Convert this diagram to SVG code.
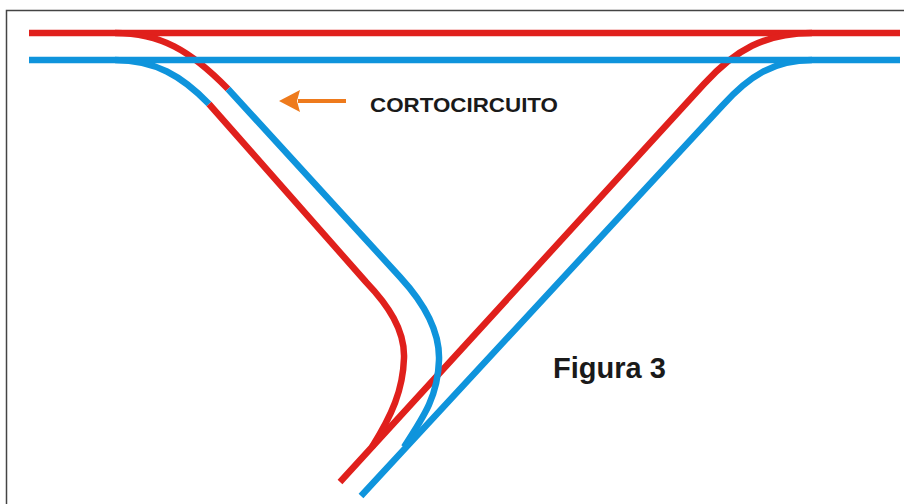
<svg xmlns="http://www.w3.org/2000/svg" width="904" height="504" viewBox="0 0 904 504">
<style>
.w{fill:none;stroke-width:6.5}
.r{stroke:#e0201c}
.b{stroke:#0f94dc}
text{font-family:"Liberation Sans",Arial,sans-serif;font-weight:700;fill:#1a1a1a}
</style>
<rect width="904" height="504" fill="#fff"/>
<path d="M6.500 504V10.500H904" fill="none" stroke="#444" stroke-width="1.500"/>
<g id="connectors">
<path class="w r" d="M29 33H900"/>
<path class="w r" d="M115 33C160 33 190 50 228 89"/>
<path class="w r" d="M340 482L704 84C735 50 765 33 812 33"/>
<path class="w b" d="M228 89L400 277C423 302 440 330 439 360C438 395 425 415 404 447"/>
<path class="w b" d="M29 60H900"/>
<path class="w b" d="M115 60C155 60 182 76 209 104"/>
<path class="w r" d="M209 104L366 282C388 305 405 330 404 358C403 390 392 415 372 447"/>
<path class="w b" d="M361 496L722 106C750 75 775 60 812 60"/>
</g>
<g id="arrow">
<path d="M346 101H298" fill="none" stroke="#ee7a1c" stroke-width="4"/>
<path d="M279 101L300 90L297 101L300 112Z" fill="#ee7a1c"/>
</g>
<g id="label-cortocircuito"><text x="370" y="112" font-size="21" textLength="188" lengthAdjust="spacingAndGlyphs">CORTOCIRCUITO</text></g>
<g id="label-figura"><text x="553" y="378" font-size="29">Figura 3</text></g>
</svg>
